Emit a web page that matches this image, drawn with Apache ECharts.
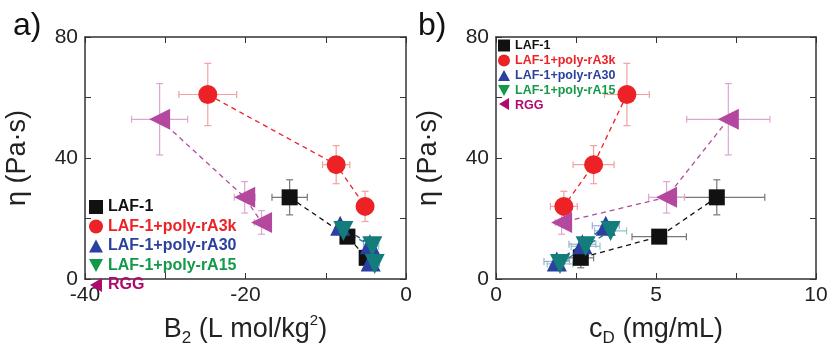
<!DOCTYPE html>
<html>
<head>
<meta charset="utf-8">
<script src="https://cdn.jsdelivr.net/npm/echarts@6/dist/echarts.min.js"></script>
<style>
  html, body { margin: 0; padding: 0; background: #fff; }
  #chart { width: 831px; height: 352px; }
</style>
</head>
<body>
<div id="chart"></div>
<script>
// data
const seriesNames = ['LAF-1', 'LAF-1+poly-rA3k', 'LAF-1+poly-rA30', 'LAF-1+poly-rA15', 'RGG'];
const eta    = [[27, 14, 7], [61, 37.8, 24], [17.6, 11.5, 5.8], [15.9, 10.8, 5], [52.8, 27, 18.7]];
const etaErr = [[5.8, 1.5, 3.3], [10.3, 6.3, 5], [1.5, 1.5, 1.2], [1.5, 1.5, 1.2], [11.8, 5.2, 3.9]];
const b2     = [[-14.5, -7.3, -4.9], [-24.7, -8.7, -5.1], [-8.2, -4.5, -4.4], [-7.8, -4.2, -3.9], [-30.7, -20.1, -18]];
const b2Err  = [[2.2, 0.8, 0.8], [3.6, 1.7, 0.6], [0.5, 0.8, 0.6], [0.5, 0.8, 0.6], [3.5, 1.3, 0.9]];
const cD     = [[6.9, 5.1, 2.65], [4.09, 3.05, 2.12], [3.43, 2.7, 1.9], [3.58, 2.8, 2.0], [7.26, 5.33, 2.05]];
const cDErr  = [[1.5, 0.85, 0.4], [0.7, 0.64, 0.42], [0.42, 0.42, 0.4], [0.5, 0.45, 0.4], [1.3, 0.56, 0.2]];

const markColors   = ['#111111', '#ec2227', '#2b41a0', '#127d7a', '#b4489f'];
const legendColors = ['#111111', '#ec2227', '#2b41a0', '#129a48', '#b0086e'];
const errColors    = ['#777777', '#f4a0a0', '#a0aad8', '#8cc8c6', '#dca6d4'];
const symbols = ['rect', 'circle', 'triangle', 'triangle', 'triangle'];
const rotates = [0, 0, 0, 180, 90];
const sizes   = [16, 19, 20, 20, 21];
// the RGG legend icon is drawn separately (see graphic below), so its slot is blank
const legendIcons = ['rect', 'circle', 'path://M6,0L12,11L0,11Z', 'path://M0,0L12,0L6,11Z', 'rect'];

const font = 'Liberation Sans, Arial, sans-serif';

let myChart = echarts.init(document.getElementById('chart'));

function errBars(panel, xs, xe) {
  return seriesNames.map((name, i) => ({
    type: 'custom',
    xAxisIndex: panel * 2,
    yAxisIndex: panel * 2,
    silent: true,
    z: 1,
    encode: {x: 0, y: 1},
    data: xs[i].map((x, j) => [x, eta[i][j], xe[i][j], etaErr[i][j]]),
    renderItem: (params, api) => {
      const x = api.value(0), y = api.value(1), dx = api.value(2), dy = api.value(3);
      const l = api.coord([x - dx, y]), r = api.coord([x + dx, y]);
      const t = api.coord([x, y + dy]), b = api.coord([x, y - dy]);
      const st = {stroke: errColors[i], lineWidth: 1.2};
      const c = 3.5;
      const ln = (x1, y1, x2, y2) => ({type: 'line', shape: {x1, y1, x2, y2}, style: st});
      return {
        type: 'group',
        children: [
          ln(l[0], l[1], r[0], r[1]),
          ln(t[0], t[1], b[0], b[1]),
          ln(l[0], l[1] - c, l[0], l[1] + c),
          ln(r[0], r[1] - c, r[0], r[1] + c),
          ln(t[0] - c, t[1], t[0] + c, t[1]),
          ln(b[0] - c, b[1], b[0] + c, b[1])
        ]
      };
    }
  }));
}

function points(panel, xs) {
  return seriesNames.map((name, i) => ({
    name: name,
    type: 'line',
    xAxisIndex: panel * 2,
    yAxisIndex: panel * 2,
    z: 3,
    symbol: symbols[i],
    symbolSize: sizes[i],
    showAllSymbol: true,
    itemStyle: {color: markColors[i], opacity: 1},
    lineStyle: {color: markColors[i], type: [5, 4], width: 1.3},
    data: xs[i].map((x, j) => ({value: [x, eta[i][j]], symbolRotate: rotates[i]}))
  }));
}

const tickLabel = {fontFamily: font, fontSize: 21, color: '#222'};

function xPair(grid, min, max, interval, name) {
  const base = {
    gridIndex: grid, type: 'value', min: min, max: max, interval: interval,
    splitLine: {show: false},
    axisLine: {show: true, onZero: false, lineStyle: {color: '#333', width: 1.5}},
    axisTick: {show: true, inside: true, length: 6, lineStyle: {color: '#333'}},
    minorTick: {show: true, splitNumber: 2, length: 6, lineStyle: {color: '#333'}}
  };
  return [
    Object.assign({}, base, {
      position: 'bottom',
      axisLabel: Object.assign({margin: 6}, tickLabel),
      name: name, nameLocation: 'middle', nameGap: 34,
      nameTextStyle: {
        fontFamily: font, fontSize: 27, color: '#222',
        rich: {
          n: {fontFamily: font, fontSize: 27, color: '#222', lineHeight: 34, verticalAlign: 'middle'},
          s: {fontFamily: font, fontSize: 17, color: '#222', lineHeight: 34, verticalAlign: 'bottom'},
          p: {fontFamily: font, fontSize: 15, color: '#222', lineHeight: 34, verticalAlign: 'top'}
        }
      }
    }),
    Object.assign({}, base, {position: 'top', axisLabel: {show: false}})
  ];
}

function yPair(grid) {
  const base = {
    gridIndex: grid, type: 'value', min: 0, max: 80, interval: 40,
    splitLine: {show: false},
    axisLine: {show: true, onZero: false, lineStyle: {color: '#333', width: 1.5}},
    axisTick: {show: true, inside: true, length: 6, lineStyle: {color: '#333'}},
    minorTick: {show: true, splitNumber: 2, length: 6, lineStyle: {color: '#333'}}
  };
  return [
    Object.assign({}, base, {
      position: 'left',
      axisLabel: Object.assign({margin: 7}, tickLabel),
      name: 'η (Pa·s)', nameLocation: 'middle', nameGap: 54, nameRotate: 90,
      nameTextStyle: {fontFamily: font, fontSize: 27, color: '#222'}
    }),
    Object.assign({}, base, {position: 'right', axisLabel: {show: false}})
  ];
}

function legendFor(left, top, gap, fontSize, iconSize) {
  return {
    left: left, top: top, orient: 'vertical', itemGap: gap,
    itemWidth: iconSize, itemHeight: iconSize,
    selectedMode: false, padding: 0,
    data: seriesNames.map((n, i) => ({
      name: n,
      icon: legendIcons[i],
      itemStyle: {color: i === 4 ? 'rgba(0,0,0,0)' : legendColors[i]},
      textStyle: {color: legendColors[i], fontWeight: 'bold', fontFamily: font, fontSize: fontSize}
    }))
  };
}

let option = {
  animation: false,
  backgroundColor: '#fff',
  grid: [
    {left: 85, top: 37, width: 321, height: 260},
    {left: 496, top: 37, width: 320, height: 260}
  ],
  xAxis: [].concat(
    xPair(0, -40, 0, 20, '{n|B}{s|2}{n| (L mol/kg}{p|2}{n|)}'),
    xPair(1, 0, 10, 5, '{n|c}{s|D}{n| (mg/mL)}')
  ),
  yAxis: [].concat(yPair(0), yPair(1)),
  legend: [
    legendFor(89, 199, 3.5, 16, 14),
    legendFor(498, 39, 2, 12.5, 12)
  ],
  graphic: [
    {type: 'text', left: 13, top: 10, style: {text: 'a)', font: '32px ' + font, fill: '#111'}},
    {type: 'text', left: 418, top: 10, style: {text: 'b)', font: '32px ' + font, fill: '#111'}},
    // left-pointing RGG legend icons
    {type: 'polygon', z: 100, shape: {points: [[90, 285], [102, 278], [102, 292]]}, style: {fill: legendColors[4]}},
    {type: 'polygon', z: 100, shape: {points: [[499, 104], [509, 98], [509, 110]]}, style: {fill: legendColors[4]}}
  ],
  series: [].concat(
    errBars(0, b2, b2Err),
    errBars(1, cD, cDErr),
    points(0, b2),
    points(1, cD)
  )
};

myChart.setOption(option);
</script>
</body>
</html>
